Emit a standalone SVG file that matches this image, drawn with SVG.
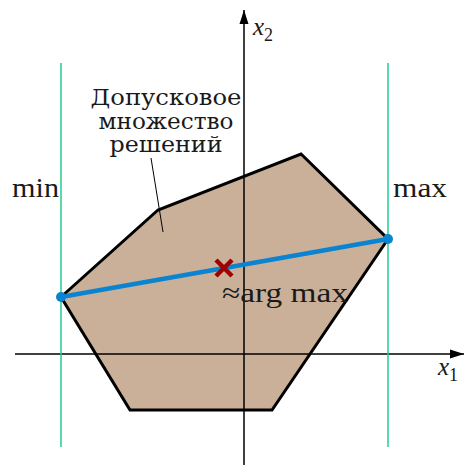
<svg xmlns="http://www.w3.org/2000/svg" width="464" height="466" viewBox="0 0 464 466">
<style>
.t{font-family:"Liberation Serif","DejaVu Serif",serif;fill:#1a1a1a}
.c{font-family:"DejaVu Serif","Liberation Serif",serif;fill:#1a1a1a}
.ax{stroke:#000;stroke-width:1.5;fill:none}
.g{stroke:#22cc90;stroke-width:1.5}
</style>
<defs>
<marker id="ah" viewBox="0 0 14 10" refX="14" refY="5" markerWidth="14" markerHeight="10" markerUnits="userSpaceOnUse" orient="auto"><path d="M0,0.5 L14,5 L0,9.5 z" fill="#000"/></marker>
</defs>
<rect width="464" height="466" fill="#fff"/>
<g id="region">
<polygon points="61,297 158,210 301,154 388,239 272,410 130,410" fill="#cbb099" stroke="#000" stroke-width="3" stroke-linejoin="miter"/>
</g>
<g id="axes">
<line class="ax" x1="15" y1="354" x2="464" y2="354" marker-end="url(#ah)"/>
<line class="ax" x1="244" y1="465" x2="244" y2="10" marker-end="url(#ah)"/>
<text class="t" x="438" y="375" font-size="25" font-style="italic">x<tspan font-size="18" font-style="normal" dy="6">1</tspan></text>
<text class="t" x="253" y="35" font-size="25" font-style="italic">x<tspan font-size="18" font-style="normal" dy="6">2</tspan></text>
</g>
<g id="bounds">
<line class="g" x1="61" y1="63" x2="61" y2="447"/>
<line class="g" x1="388" y1="63" x2="388" y2="447"/>
<text class="t" x="12" y="197" font-size="27" textLength="47" lengthAdjust="spacingAndGlyphs">min</text>
<text class="t" x="393" y="197" font-size="27" textLength="54" lengthAdjust="spacingAndGlyphs">max</text>
</g>
<g id="connectors">
<line x1="151" y1="158" x2="163" y2="232" stroke="#000" stroke-width="1"/>
<line x1="61" y1="297" x2="388" y2="239" stroke="#0a84d0" stroke-width="4.5"/>
<circle cx="61" cy="297" r="5" fill="#0a84d0"/>
<circle cx="388" cy="239" r="5" fill="#0a84d0"/>
</g>
<g id="argmax">
<path d="M216,260 L232,276 M232,260 L216,276" stroke="#a00000" stroke-width="4.5"/>
<text class="t" x="222" y="302" font-size="27" textLength="126" lengthAdjust="spacingAndGlyphs">≈arg max</text>
</g>
<g id="label">
<text class="c" font-size="22" text-anchor="middle"><tspan x="166" y="105" textLength="151" lengthAdjust="spacingAndGlyphs">Допусковое</tspan><tspan x="166" y="129" textLength="135" lengthAdjust="spacingAndGlyphs">множество</tspan><tspan x="166" y="152" textLength="113" lengthAdjust="spacingAndGlyphs">решений</tspan></text>
</g>
</svg>
